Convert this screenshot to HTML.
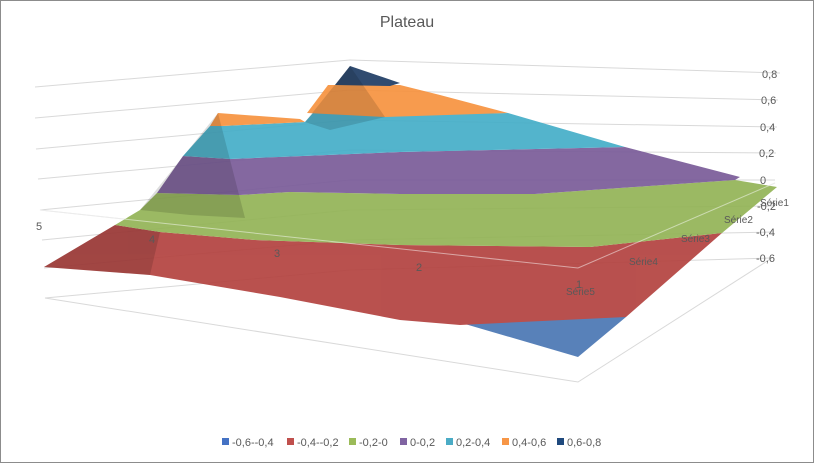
<!DOCTYPE html>
<html><head><style>
body{margin:0;background:#fff}
svg{display:block;font-family:"Liberation Sans",sans-serif}
</style></head><body>
<svg width="814" height="463" viewBox="0 0 814 463">
<rect x="0.5" y="0.5" width="813" height="462" fill="#fff" stroke="#8c8c8c"/>
<text x="407" y="27" font-size="16" fill="#595959" text-anchor="middle">Plateau</text>
<g stroke="#d9d9d9" fill="none" stroke-width="1">
<polyline points="35,87 350,60 780,73"/>
<polyline points="35,118 350,90 778,100"/>
<polyline points="36,149 350,120 777,127"/>
<polyline points="38,179 350,150 776,153"/>
<polyline points="40,210 350,180 775,180"/>
<polyline points="42,240 350,210 774,206"/>
<polyline points="44,268 350,240 773,232"/>
<polyline points="45,298 350,270 772,258"/>
<polyline points="45,298 578,382 772,258"/>
</g>
<g stroke="#d9d9d9" stroke-width="1">
<line x1="40" y1="210" x2="578" y2="268"/>
<line x1="578" y1="268" x2="775" y2="183"/>
</g>
<g opacity="0.92">
<polygon points="400,305 626,317 578,357" fill="#4a77b4"/>
<polygon points="44,267 115,225 160,232 255,240 400,245 590,247 722,233 626,317 460,325 400,320 280,297 150,275" fill="#b3423f"/>
<polygon points="115,225 140,210 157,193 240,195 290,192 400,194 535,194 735,180 777,187 722,233 590,247 400,245 255,240 160,232" fill="#93b456"/>
<polygon points="157,193 183,156 230,159 400,152 625,147 740,177 735,180 535,194 400,194 290,192 240,195" fill="#7a5c99"/>
<polygon points="183,156 210,126 222,126 305,122 313,113 385,115 508,113 625,147 400,152 230,159" fill="#45aec8"/>
<polygon points="210,126 218,113 300,119 305,122 222,126" fill="#f7933f"/>
<polygon points="307,113 328,85 400,85 440,95 508,113 385,117" fill="#f7933f"/>
<polygon points="335,85 350,66 400,83 390,86" fill="#1f3c64"/>
</g>
<g fill="#000" opacity="0.13">
<polygon points="140,210 218,113 245,218 190,215"/>
<polygon points="305,122 350,66 365,88 385,117 330,130"/>
<polygon points="44,267 115,225 160,232 150,275"/>
</g>
<line x1="40" y1="210" x2="578" y2="268" stroke="#fff" stroke-opacity="0.5"/>
<line x1="578" y1="268" x2="775" y2="183" stroke="#fff" stroke-opacity="0.5"/>
<g font-size="11" fill="#595959">
<text x="762" y="78">0,8</text><text x="761" y="104">0,6</text><text x="760" y="131">0,4</text><text x="759" y="157">0,2</text><text x="760" y="184">0</text><text x="757" y="210">-0,2</text><text x="756" y="236">-0,4</text><text x="756" y="262">-0,6</text>
<text x="36" y="230">5</text><text x="149" y="243">4</text><text x="274" y="257">3</text><text x="416" y="271">2</text><text x="576" y="288">1</text>
<text x="566" y="295" font-size="10">Série5</text><text x="629" y="265" font-size="10">Série4</text><text x="681" y="242" font-size="10">Série3</text><text x="724" y="223" font-size="10">Série2</text><text x="760" y="206" font-size="10">Série1</text>
</g>
<g font-size="11" fill="#595959">
<rect x="222" y="438" width="7" height="7" fill="#4472c4"/><text x="232" y="446">-0,6--0,4</text>
<rect x="287" y="438" width="7" height="7" fill="#c0504d"/><text x="297" y="446">-0,4--0,2</text>
<rect x="349" y="438" width="7" height="7" fill="#9bbb59"/><text x="359" y="446">-0,2-0</text>
<rect x="400" y="438" width="7" height="7" fill="#8064a2"/><text x="410" y="446">0-0,2</text>
<rect x="446" y="438" width="7" height="7" fill="#4bacc6"/><text x="456" y="446">0,2-0,4</text>
<rect x="502" y="438" width="7" height="7" fill="#f79646"/><text x="512" y="446">0,4-0,6</text>
<rect x="557" y="438" width="7" height="7" fill="#1f497d"/><text x="567" y="446">0,6-0,8</text>
</g>
</svg>
</body></html>
